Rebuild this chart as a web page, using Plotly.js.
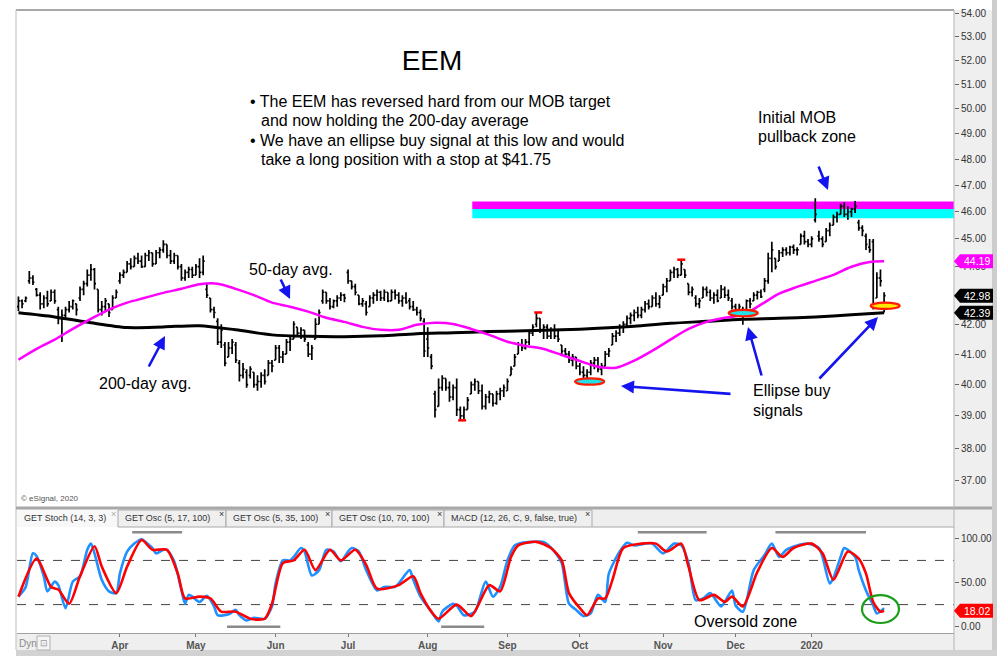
<!DOCTYPE html>
<html><head><meta charset="utf-8">
<script src="https://cdn.plot.ly/plotly-3.0.1.min.js"></script>
<style>html,body{margin:0;padding:0;background:#fff}#chart{width:1007px;height:665px}</style>
</head><body><div id="chart"></div>
<script>
// ---------------- DATA ----------------
const openP = [42.6,42.8,42.8,43.5,43.6,43.2,43.0,42.7,42.9,42.8,
43.1,42.5,42.2,42.3,42.5,42.6,42.7,42.9,43.2,43.4,
43.7,43.9,43.2,42.5,42.6,42.7,42.5,42.9,43.5,43.7,
43.8,44.1,44.0,44.3,44.2,44.0,44.4,44.5,44.1,44.5,
44.6,44.8,44.4,44.2,44.4,44.0,43.6,43.8,43.9,43.7,
44.0,43.8,43.2,42.9,42.5,42.1,41.4,41.3,40.9,41.2,
41.3,40.7,40.3,40.4,40.3,40.4,40.0,40.1,40.3,40.3,
40.7,40.8,41.2,40.9,41.0,41.4,41.5,41.9,41.7,41.8,
41.3,41.0,41.5,42.0,42.8,43.1,42.8,42.6,42.8,42.9,
43.0,43.8,43.5,43.3,43.0,42.7,42.7,42.6,42.9,43.0,
43.1,42.9,43.1,42.8,43.1,43.0,42.8,42.9,42.8,42.6,
42.5,42.4,42.1,41.5,40.9,39.7,39.3,39.9,40.2,39.9,
39.6,39.9,39.2,39.0,39.2,39.7,40.0,40.1,39.8,39.3,
39.6,39.7,39.4,39.7,39.8,39.8,40.3,40.6,41.0,41.3,
41.2,41.4,41.7,42.0,42.2,41.8,41.9,41.6,41.8,41.6,
41.3,41.1,41.0,40.8,40.9,40.6,40.4,40.3,40.4,40.7,
40.8,40.5,40.6,41.0,41.3,41.6,41.7,41.9,42.0,42.2,
42.3,42.4,42.3,42.5,42.7,42.6,42.9,42.7,43.0,43.3,
43.5,43.8,43.9,43.7,43.9,43.4,43.1,42.9,42.7,42.9,
43.2,43.1,42.9,43.0,42.9,43.2,43.0,42.8,42.6,42.5,
42.5,42.5,42.8,42.8,43.0,43.1,43.2,43.5,44.3,44.3,
44.2,44.5,44.6,44.5,44.7,44.6,44.8,45.1,44.9,44.8,
45.7,45.1,45.0,44.9,45.3,45.5,45.8,45.9,46.2,45.9,
46.0,46.1,45.6,45.4,45.1,44.7,44.9,42.9,43.6,42.6];
const highP = [42.95,42.85,42.95,43.85,43.7,43.25,43.1,43.0,43.15,43.2,
43.2,42.6,42.5,42.6,42.8,42.85,42.7,43.3,43.5,43.9,
44.1,43.95,43.2,42.8,42.9,42.7,43.0,43.2,43.8,43.9,
44.2,44.3,44.4,44.5,44.4,44.5,44.6,44.5,44.6,44.7,
44.95,44.8,44.6,44.5,44.4,44.1,43.9,44.0,44.0,44.1,
44.3,44.4,43.4,42.9,42.6,42.2,42.0,41.4,41.4,41.5,
41.4,40.8,40.7,40.5,40.6,40.4,40.3,40.4,40.5,40.8,
40.8,41.3,41.3,41.1,41.5,41.6,42.1,41.9,41.9,41.8,
41.4,41.3,42.2,42.5,43.2,43.1,42.9,42.85,43.0,43.1,
43.05,43.9,43.5,43.4,43.0,42.9,42.8,43.0,43.1,43.2,
43.15,43.2,43.1,43.2,43.2,43.1,43.0,43.1,42.9,42.8,
42.6,42.5,42.2,41.9,41.0,39.8,40.2,40.3,40.2,40.1,
40.0,40.2,39.3,39.3,39.6,40.1,40.2,40.1,40.0,39.7,
39.8,39.7,39.8,39.9,40.0,40.2,40.6,41.0,41.4,41.5,
41.5,41.8,42.0,42.4,42.2,42.0,42.0,41.9,42.0,41.8,
41.3,41.2,41.1,41.0,40.9,40.7,40.6,40.5,40.8,40.9,
40.9,40.7,41.1,41.2,41.7,41.8,42.0,42.1,42.3,42.4,
42.5,42.6,42.6,42.8,42.85,43.0,43.1,43.0,43.4,43.6,
43.9,44.0,43.95,44.25,43.9,43.4,43.3,43.0,42.9,43.3,
43.3,43.2,43.1,43.2,43.35,43.3,43.2,42.9,42.7,42.7,
42.6,42.85,42.9,43.1,43.15,43.2,43.6,44.5,44.9,44.3,
44.6,44.7,44.7,44.75,44.8,44.7,45.2,45.3,45.0,45.1,
46.5,45.3,45.1,45.4,45.6,45.9,46.0,46.3,46.35,46.2,
46.15,46.4,45.7,45.5,45.2,45.0,45.0,43.8,43.9,43.1];
const lowP = [42.45,42.55,42.75,43.4,43.35,42.95,42.5,42.55,42.6,42.8,
42.7,42.0,41.4,42.2,42.4,42.5,42.3,42.8,43.0,43.3,
43.5,43.2,42.4,42.3,42.45,42.25,42.5,42.9,43.4,43.6,
43.8,43.9,44.0,44.1,43.95,44.0,44.2,44.0,44.1,44.3,
44.5,44.3,44.1,44.1,43.9,43.5,43.5,43.6,43.6,43.7,
43.6,43.7,42.9,42.4,42.2,41.3,41.2,40.6,40.9,41.0,
40.7,40.1,40.2,39.9,40.2,39.9,39.8,39.9,40.0,40.3,
40.4,40.8,40.7,40.7,41.0,41.1,41.5,41.6,41.5,41.4,
40.9,40.8,41.5,42.0,42.7,42.7,42.5,42.55,42.6,42.8,
42.75,43.4,43.2,43.0,42.65,42.6,42.3,42.6,42.7,42.8,
42.8,42.8,42.75,42.8,42.85,42.7,42.6,42.7,42.5,42.45,
42.3,42.1,40.9,40.9,40.5,38.95,39.3,39.8,39.8,39.45,
39.5,39.0,38.86,38.9,39.2,39.7,39.8,39.7,39.2,39.2,
39.4,39.3,39.35,39.5,39.6,39.8,40.3,40.6,41.0,41.1,
41.15,41.3,41.6,41.9,41.7,41.5,41.5,41.5,41.5,41.4,
41.0,40.9,40.7,40.6,40.5,40.3,40.2,40.1,40.3,40.5,
40.4,40.3,40.6,40.9,41.3,41.4,41.6,41.7,41.9,42.0,
42.1,42.2,42.2,42.4,42.5,42.6,42.6,42.55,43.0,43.1,
43.5,43.6,43.6,43.7,43.6,43.0,42.95,42.6,42.55,42.9,
42.95,42.8,42.7,42.75,42.9,42.9,42.8,42.5,42.4,42.35,
41.98,42.5,42.55,42.8,42.85,42.9,43.1,43.4,43.8,43.9,
44.2,44.35,44.4,44.4,44.45,44.4,44.8,44.8,44.7,44.7,
45.6,44.9,44.7,44.9,45.1,45.5,45.6,45.9,45.8,45.7,
45.8,45.95,45.3,45.1,44.6,44.5,42.5,42.9,43.3,42.4];
const closeP = [42.8,42.7,42.9,43.6,43.45,43.0,42.7,42.9,42.7,43.1,
42.8,42.2,42.3,42.5,42.6,42.8,42.5,43.2,43.4,43.7,
43.9,43.4,42.5,42.6,42.8,42.4,42.9,43.1,43.7,43.8,
44.1,44.0,44.3,44.2,44.0,44.4,44.5,44.1,44.5,44.6,
44.8,44.4,44.2,44.4,44.0,43.6,43.8,43.9,43.7,44.0,
43.8,44.2,43.0,42.5,42.4,41.4,41.8,40.7,41.2,41.4,
40.8,40.3,40.5,40.0,40.5,40.0,40.1,40.3,40.1,40.7,
40.6,41.2,40.9,41.0,41.4,41.5,42.0,41.7,41.8,41.5,
41.0,41.2,42.0,42.4,43.1,42.8,42.6,42.8,42.9,43.0,
42.9,43.5,43.3,43.1,42.7,42.8,42.4,42.9,43.0,43.1,
42.9,43.1,42.8,43.1,43.0,42.8,42.9,42.75,42.6,42.5,
42.4,42.2,41.1,41.2,40.6,39.2,39.9,40.2,39.9,39.6,
39.9,39.2,39.0,39.2,39.5,40.0,40.1,39.8,39.3,39.6,
39.7,39.4,39.7,39.8,39.9,40.1,40.5,40.9,41.3,41.2,
41.4,41.7,41.9,42.2,41.8,41.9,41.6,41.8,41.6,41.5,
41.1,41.0,40.8,40.9,40.6,40.4,40.3,40.4,40.7,40.8,
40.5,40.6,41.0,41.1,41.6,41.7,41.9,42.0,42.2,42.3,
42.4,42.3,42.5,42.7,42.6,42.9,42.7,42.9,43.3,43.5,
43.8,43.9,43.7,44.1,43.7,43.1,43.2,42.7,42.8,43.2,
43.1,42.9,43.0,42.8,43.2,43.0,42.9,42.6,42.5,42.6,
42.3,42.8,42.7,43.0,43.1,42.95,43.5,44.3,44.6,44.0,
44.5,44.6,44.5,44.7,44.6,44.6,45.1,44.9,44.8,45.0,
45.9,45.0,44.8,45.3,45.5,45.8,45.9,46.2,45.9,46.0,
46.1,46.2,45.4,45.3,44.8,44.6,42.7,43.6,43.5,42.98];

const ma50Days = [0,5,10,15,20,25,30,35,40,45,50,55,60,65,70,75,80,85,90,95,100,105,110,115,120,125,130,135,140,145,150,155,160,165,170,175,180,185,190,195,200,205,210,215,220,225,230,235,239];
const ma50 = [40.81,41.17,41.48,41.84,42.18,42.50,42.74,42.91,43.08,43.22,43.38,43.40,43.22,43.00,42.74,42.60,42.43,42.22,42.08,41.91,41.81,41.81,41.98,42.05,42.01,41.84,41.64,41.41,41.27,41.17,40.97,40.77,40.58,40.55,40.78,41.11,41.48,41.84,42.08,42.22,42.32,42.67,43.05,43.29,43.50,43.71,44.00,44.17,44.19];
const ma200Days = [0,10,20,30,40,50,60,70,80,90,100,110,120,130,140,150,160,170,180,190,200,210,220,230,239];
const ma200 = [42.39,42.25,42.05,41.89,41.91,41.95,41.81,41.64,41.59,41.58,41.61,41.68,41.71,41.75,41.78,41.81,41.86,41.93,42.03,42.10,42.17,42.20,42.25,42.32,42.39];

const stochKDays = [0,2,4,5,7,8,10,11,13,15,17,19,20,21,23,25,27,28,30,32,34,35,37,38,40,41,43,45,46,47,48,50,52,54,55,58,60,61,63,65,68,70,71,73,75,76,78,79,81,83,85,87,89,91,92,94,96,99,101,104,105,108,109,111,114,116,117,120,121,123,126,129,131,133,135,137,139,142,145,148,150,152,154,156,158,160,162,163,166,168,170,173,175,178,181,183,185,187,189,191,194,197,198,200,203,206,208,210,212,215,218,221,222,224,225,227,228,231,232,234,236,237,239];
const stochK = [34,45,83,80,57,40,51,47,21,51,57,87,94,83,53,40,38,60,85,94,99,96,89,83,87,87,74,41,26,36,34,28,35,23,13,14,19,13,7,10,9,23,49,75,75,79,89,85,58,64,87,85,74,85,89,85,64,41,45,45,49,64,53,34,17,6,17,26,24,13,17,51,34,45,75,92,95,96,96,85,72,26,19,12,15,36,28,60,85,95,92,94,94,83,94,92,72,30,32,38,23,41,24,17,64,81,94,79,87,92,94,89,79,49,55,79,89,79,64,41,24,15,21];
const stochDDays = [0,5,9,11,14,17,21,23,27,30,34,37,41,44,46,50,53,56,60,64,68,70,73,76,79,82,86,89,93,96,99,105,109,111,114,116,121,125,130,133,136,138,143,147,150,152,155,157,160,162,164,167,172,176,179,183,185,188,192,195,197,200,204,208,211,214,219,222,225,229,232,234,236,238,239];
const stochD = [34,77,45,42,26,57,91,68,38,68,98,87,87,60,32,34,32,17,17,9,9,26,72,75,87,64,87,75,87,70,43,47,57,38,17,9,25,12,47,40,79,92,96,89,75,38,21,13,32,32,53,89,94,94,85,94,68,30,36,28,34,23,62,89,79,89,94,83,53,85,77,60,28,17,18.02];
const stochLevels = [25, 75];

const monthDays = [28,49,71,91,113,135,155,178,198,219];
const monthLabels = ['Apr','May','Jun','Jul','Aug','Sep','Oct','Nov','Dec','2020'];
const priceTicks = [37,38,39,40,41,42,43,44,45,46,47,48,49,50,51,52,53,54];
const priceTickHidden = [43];   // covered by the last-close box in the reference
const stochTicks = [0,50,100];

const mobZone = [45.76, 46.10, 46.38];       // cyan low, split, magenta high
const mobZoneStartDay = 125.3;
const ellipseSignals = [ {day:157.7, price:40.10, fill:'#22e0e8'}, {day:200.1, price:42.38, fill:'#22e0e8'}, {day:239.3, price:42.63, fill:'#ffe800'} ];
const redTicks = [ {day:122.5, price:38.86}, {day:143.5, price:42.40}, {day:183, price:44.25} ];
const lastValues = {ma50:44.19, close:42.98, ma200:42.39, stoch:18.02};
const greyMarksTop = [[31.4,45.2],[171,190],[209,234]];
const greyMarksBottom = [[57.6,72.3],[116.7,128.6]];
const oversoldCircle = {day:238, value:20};
const tabLabels = ['GET Stoch (14, 3, 3)','GET Osc (5, 17, 100)','GET Osc (5, 35, 100)','GET Osc (10, 70, 100)','MACD (12, 26, C, 9, false, true)'];
const tabEdges = [17,118,226,332,444,592];

// ---------------- LAYOUT HELPERS ----------------
const W = 1007, H = 665;
const px = x => x / W;
const py = y => 1 - y / H;
const L10 = v => Math.log10(v);
const FONT = 'Liberation Sans, Arial, sans-serif';
const days = openP.map((_, i) => i);
const XR = [-0.4, 258.3];

const traces = [
  {type:'scatter', mode:'lines', x:ma200Days, y:ma200, line:{color:'#000', width:3, shape:'spline', smoothing:0.8}, xaxis:'x', yaxis:'y', hoverinfo:'skip'},
  {type:'scatter', mode:'lines', x:ma50Days, y:ma50, line:{color:'#ff00ff', width:2.5, shape:'spline', smoothing:0.8}, xaxis:'x', yaxis:'y', hoverinfo:'skip'},
  {type:'ohlc', x:days, open:openP, high:highP, low:lowP, close:closeP, xaxis:'x', yaxis:'y', tickwidth:0.42,
   increasing:{line:{color:'#000', width:1.7}}, decreasing:{line:{color:'#000', width:1.7}}, hoverinfo:'skip'},
  {type:'scatter', mode:'lines', x:stochKDays, y:stochK, line:{color:'#1e90ff', width:2.6, shape:'spline', smoothing:0.7}, xaxis:'x2', yaxis:'y2', hoverinfo:'skip'},
  {type:'scatter', mode:'lines', x:stochDDays, y:stochD, line:{color:'#ff0000', width:2.6, shape:'spline', smoothing:0.7}, xaxis:'x2', yaxis:'y2', hoverinfo:'skip'}
];

const shapes = [];
const rectPx = (x0,y0,x1,y1,fill,lineColor,lw,layer) => shapes.push({type:'rect', xref:'paper', yref:'paper', x0:px(x0), x1:px(x1), y0:py(y1), y1:py(y0), fillcolor:fill, line:{color:lineColor||fill, width:lw||0}, layer:layer||'below'});
const linePx = (x0,y0,x1,y1,color,w,layer) => shapes.push({type:'line', xref:'paper', yref:'paper', x0:px(x0), x1:px(x1), y0:py(y0), y1:py(y1), line:{color:color, width:w}, layer:layer||'above'});

// frame backgrounds
rectPx(954,10,992,650,'#efefef');
rectPx(992,0,997,656,'#cdcdcd');
rectPx(16,633,992,650,'#efefef');
rectPx(16,650,997,656,'#d2d2d2');
rectPx(17,509,954,527,'#eeeeee');
linePx(16,10,954,10,'#a8a8a8',2);
linePx(16,10,16,650,'#c8c8c8',1.2);
linePx(16,508,992,508,'#a8a8a8',3);
linePx(954,10,954,650,'#b4b4b4',1);
// tabs
for (let t = 0; t < tabLabels.length; t++) {
  const a = tabEdges[t], b = tabEdges[t+1];
  if (t === 0) rectPx(a,509,b,527,'#f8f8f8','#f8f8f8',0);
  else rectPx(a,510,b,527,'#efefef','#a8a8a8',1);
}
linePx(592,527,954,527,'#a8a8a8',1);

// MOB zone bands (shapes on the log axis take data values)
shapes.push({type:'rect', xref:'x', yref:'y', x0:mobZoneStartDay, x1:XR[1], y0:mobZone[0], y1:mobZone[1], fillcolor:'#00ffff', line:{width:0}, layer:'below'});
shapes.push({type:'rect', xref:'x', yref:'y', x0:mobZoneStartDay, x1:XR[1], y0:mobZone[1], y1:mobZone[2], fillcolor:'#ff00ff', line:{width:0}, layer:'below'});

// ellipses
const EH = Math.pow(10, 0.0011);
ellipseSignals.forEach(e => shapes.push({type:'circle', xref:'x', yref:'y', x0:e.day-4, x1:e.day+4, y0:e.price/EH, y1:e.price*EH, fillcolor:e.fill, line:{color:'#ff1a00', width:2.2}, layer:'above'}));
// red ticks
redTicks.forEach(r => shapes.push({type:'line', xref:'x', yref:'y', x0:r.day-1.1, x1:r.day+1.1, y0:r.price, y1:r.price, line:{color:'#ff0000', width:2.5}, layer:'above'}));

// stochastic reference lines & grey markers
stochLevels.forEach(v => shapes.push({type:'line', xref:'paper', yref:'y2', x0:px(17), x1:px(954), y0:v, y1:v, line:{color:'#444', width:1, dash:'dash'}, layer:'below'}));
greyMarksTop.forEach(s => shapes.push({type:'line', xref:'x2', yref:'y2', x0:s[0], x1:s[1], y0:107, y1:107, line:{color:'#8a8a8a', width:2.5}}));
greyMarksBottom.forEach(s => shapes.push({type:'line', xref:'x2', yref:'y2', x0:s[0], x1:s[1], y0:0, y1:0, line:{color:'#8a8a8a', width:2.5}}));
shapes.push({type:'circle', xref:'x2', yref:'y2', x0:oversoldCircle.day-5.1, x1:oversoldCircle.day+5.1, y0:oversoldCircle.value-15.8, y1:oversoldCircle.value+15.8, line:{color:'#1a9e1a', width:2.2}, layer:'above'});

// value label boxes on the right axis
const annotations = [];
function valueLabel(val, yref, shapeY, annY, bg) {
  shapes.push({type:'path', xref:'paper', xsizemode:'pixel', xanchor:px(954), yref:yref, ysizemode:'pixel', yanchor:shapeY,
    path:'M 0 0 L 6 7 L 39 7 L 39 -7 L 6 -7 Z', fillcolor:bg, line:{width:0}, layer:'above'});
  annotations.push({xref:'paper', yref:yref, x:px(962), y:annY, xanchor:'left', yanchor:'middle', text:val.toFixed(2), showarrow:false, font:{family:FONT, size:10.5, color:'#fff'}});
}
valueLabel(lastValues.ma50, 'y', lastValues.ma50, L10(lastValues.ma50), '#ff00ff');
valueLabel(lastValues.close, 'y', lastValues.close, L10(lastValues.close), '#000');
valueLabel(lastValues.ma200, 'y', lastValues.ma200, L10(lastValues.ma200), '#000');
valueLabel(lastValues.stoch, 'y2', lastValues.stoch, lastValues.stoch, '#ff0000');

// text
const txt = (t, x, y, size, anchor, color, extra) => annotations.push(Object.assign({xref:'paper', yref:'paper', x:px(x), y:py(y), xanchor:anchor||'left', yanchor:'middle', text:t, showarrow:false, font:{family:FONT, size:size, color:color||'#000'}}, extra||{}));
txt('• The EEM has reversed hard from our MOB target', 248, 102, 16);
txt('and now holding the 200-day average', 259, 121, 16);
txt('• We have an ellipse buy signal at this low and would', 248, 140, 16);
txt('take a long position with a stop at $41.75', 259, 159, 16);
txt('Initial MOB', 756, 117, 16);
txt('pullback zone', 756, 136, 16);
txt('50-day avg.', 247, 269, 16);
txt('200-day avg.', 97, 383, 16);
txt('Ellipse buy', 751, 391, 16);
txt('signals', 751, 410, 16);
txt('Oversold zone', 692, 621, 16);
txt('© eSignal, 2020', 19, 498, 8, 'left', '#555');
txt('Dyn', 17, 643, 10, 'left', '#8a8a8a');
rectPx(37,636,50,650,'#f4f4f4','#b0b0b0',1,'above');
txt('⊡', 43.5, 643, 9, 'center', '#999');
for (let t = 0; t < tabLabels.length; t++) {
  txt(tabLabels[t], tabEdges[t] + 5, 518, 9, 'left', '#333');
  txt('×', tabEdges[t+1] - 5, 514, 9, 'center', t === 0 ? '#aaa' : '#333');
}

// arrows
const arrow = (hx, hy, tx, ty) => annotations.push({xref:'paper', yref:'paper', x:px(hx), y:py(hy), ax:tx-hx, ay:ty-hy, text:'', showarrow:true, arrowhead:2, arrowsize:1, arrowwidth:2.6, arrowcolor:'#1414f0'});
arrow(828,190, 818,165);
arrow(290,299, 280,278);
arrow(165,336, 148,368);
arrow(621,386, 732,394);
arrow(748,327, 762,377);
arrow(878,317, 818,380);

const axisFont = {family:FONT, size:10, color:'#333'};
const layout = {
  width:W, height:H, margin:{l:0, r:0, t:0, b:0},
  paper_bgcolor:'#fff', plot_bgcolor:'rgba(0,0,0,0)', showlegend:false, hovermode:false,
  title:{text:'EEM', x:px(432), y:py(60), xanchor:'center', yanchor:'middle', font:{family:FONT, size:28, color:'#000'}},
  xaxis:{domain:[px(17), px(954)], range:XR, anchor:'y', showticklabels:false, showgrid:false, zeroline:false, showline:false, ticks:'', rangeslider:{visible:false}, fixedrange:true},
  yaxis:{domain:[py(507), py(10)], type:'log', range:[L10(36.23), L10(54.15)], side:'right', anchor:'x', tickvals:priceTicks,
         ticktext:priceTicks.map(v => priceTickHidden.includes(v) ? '' : v.toFixed(2)),
         ticks:'outside', ticklen:4, tickcolor:'#666', showgrid:false, zeroline:false, showline:false, tickfont:axisFont},
  xaxis2:{domain:[px(17), px(954)], range:XR, anchor:'y2', tickvals:monthDays, ticktext:monthLabels, ticks:'outside', ticklen:3, tickcolor:'#777',
          showgrid:false, zeroline:false, showline:true, linecolor:'#a0a0a0', linewidth:1, tickfont:{family:FONT, size:10, color:'#555', weight:'bold'}},
  yaxis2:{domain:[py(632.7), py(527)], range:[-6.8, 112.8], side:'right', anchor:'x2', tickvals:stochTicks, ticktext:stochTicks.map(v => v.toFixed(2)),
          ticks:'outside', ticklen:4, tickcolor:'#666', showgrid:false, zeroline:false, showline:false, tickfont:axisFont},
  shapes:shapes, annotations:annotations
};
Plotly.newPlot('chart', traces, layout, {staticPlot:true, displayModeBar:false});
</script></body></html>
